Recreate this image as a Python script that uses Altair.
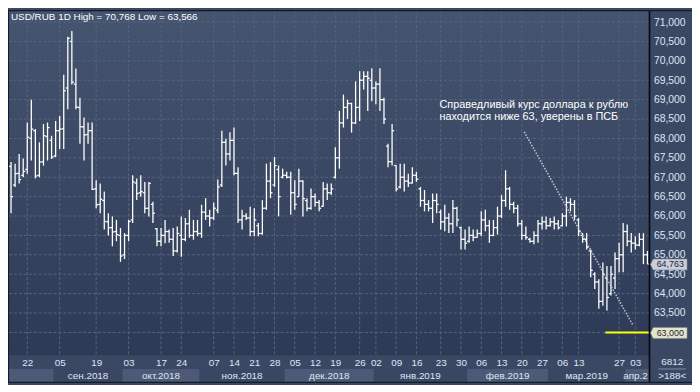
import altair as alt
import pandas as pd

# ---------------- data ----------------
high = [
    67.39, 67.35, 67.60, 67.48, 68.41, 69.00, 68.24, 67.90, 68.37, 68.41,
    68.07, 68.45, 68.58, 69.64, 70.62, 70.768, 69.80, 69.05, 68.54, 68.41,
    68.41, 66.92, 66.84, 66.63, 66.07, 65.99, 65.90, 65.69, 65.56, 65.90,
    67.05, 66.97, 67.05, 66.88, 66.88, 66.37, 65.69, 65.69, 65.90, 65.65,
    65.69, 65.73, 65.99, 65.95, 66.16, 65.90, 65.90, 66.29, 66.46, 66.16,
    66.35, 66.94, 68.20, 67.99, 68.16, 68.28, 67.26, 66.16, 66.07, 66.24,
    66.20, 65.82, 66.41, 67.35, 67.39, 67.52, 67.30, 67.22, 67.14, 67.14,
    66.92, 67.22, 66.92, 66.46, 66.71, 66.58, 66.41, 66.88, 66.84, 66.84,
    67.77, 68.71, 69.13, 69.00, 68.92, 69.47, 69.73, 69.73, 69.73, 69.81,
    69.47, 69.81, 69.05, 67.86, 68.37, 67.30, 67.35, 67.35, 67.09, 67.26,
    67.14, 66.75, 66.67, 66.41, 66.58, 66.58, 66.16, 66.29, 66.07, 66.41,
    66.24, 65.73, 65.65, 65.73, 65.65, 65.65, 66.12, 66.16, 65.90, 65.90,
    66.24, 66.54, 67.18, 66.75, 66.37, 66.29, 65.90, 65.73, 65.44, 65.61,
    65.90, 65.99, 65.99, 65.95, 65.99, 65.90, 66.07, 66.50, 66.46, 66.41,
    65.95, 65.56, 65.56, 65.14, 64.55, 64.37, 64.80, 64.71, 64.71, 65.06,
    65.31, 65.82, 65.78, 65.56, 65.48, 65.56, 65.56, 65.10]
low = [
    66.07, 66.75, 66.84, 67.00, 67.09, 67.43, 66.97, 67.00, 67.30, 67.43,
    67.47, 67.52, 67.73, 67.73, 68.75, 69.39, 68.75, 67.86, 67.43, 67.86,
    66.67, 66.20, 66.07, 65.65, 65.50, 65.22, 65.35, 64.82, 64.89, 65.35,
    65.82, 66.41, 66.50, 66.07, 65.99, 65.82, 65.22, 65.22, 65.30, 65.31,
    64.97, 65.06, 64.95, 65.35, 65.44, 65.39, 65.48, 65.44, 65.90, 65.73,
    65.90, 66.07, 66.75, 67.30, 67.43, 67.05, 65.82, 65.65, 65.90, 65.48,
    65.48, 65.48, 65.52, 66.16, 66.46, 66.75, 65.99, 66.97, 66.97, 66.03,
    66.16, 66.50, 65.99, 66.12, 66.16, 66.24, 66.12, 66.24, 66.41, 66.54,
    66.97, 67.22, 68.28, 68.50, 68.15, 68.37, 68.45, 69.26, 68.71, 68.96,
    68.88, 68.71, 68.37, 67.26, 67.30, 66.63, 66.71, 66.63, 66.75, 66.84,
    66.88, 66.24, 66.12, 66.12, 65.82, 66.07, 65.65, 65.61, 65.56, 65.56,
    65.73, 65.14, 65.14, 65.31, 65.35, 65.44, 65.48, 65.61, 65.31, 65.48,
    65.52, 65.95, 66.24, 66.16, 66.07, 65.73, 65.39, 65.39, 65.31, 65.27,
    65.31, 65.65, 65.65, 65.73, 65.65, 65.65, 65.73, 65.73, 66.12, 65.90,
    65.48, 65.31, 65.14, 64.42, 64.12, 63.61, 63.69, 63.566, 63.95, 64.12,
    64.55, 64.55, 65.22, 65.06, 65.14, 65.22, 64.76, 64.76]
opn = [
    67.28, 66.80, 67.10, 67.05, 67.20, 68.00, 68.20, 67.05, 67.40, 68.05,
    67.95, 67.55, 68.20, 68.25, 69.30, 70.50, 69.40, 68.80, 68.30, 68.10,
    68.20, 66.70, 66.30, 66.40, 65.85, 65.70, 65.60, 65.50, 65.00, 65.50,
    65.90, 66.85, 66.60, 66.60, 66.20, 66.30, 65.67, 65.35, 65.50, 65.60,
    65.40, 65.10, 65.50, 65.40, 65.80, 65.50, 65.60, 65.55, 66.10, 66.00,
    65.95, 66.15, 66.80, 67.90, 67.60, 67.95, 67.10, 65.90, 66.00, 65.95,
    65.60, 65.75, 65.55, 66.20, 66.90, 66.80, 67.20, 67.00, 67.05, 67.00,
    66.60, 66.50, 66.90, 66.40, 66.20, 66.50, 66.35, 66.25, 66.70, 66.60,
    67.00, 67.50, 68.40, 68.80, 68.90, 68.40, 68.80, 69.50, 69.60, 69.50,
    69.30, 69.40, 69.00, 67.80, 67.40, 67.30, 66.75, 67.00, 66.90, 66.85,
    67.05, 66.70, 66.40, 66.30, 66.20, 66.40, 66.10, 65.85, 65.95, 65.80,
    66.20, 65.70, 65.40, 65.35, 65.50, 65.45, 65.55, 65.90, 65.75, 65.50,
    65.70, 66.00, 66.40, 66.70, 66.30, 66.20, 65.80, 65.50, 65.40, 65.35,
    65.50, 65.80, 65.85, 65.75, 65.85, 65.80, 65.75, 66.00, 66.35, 66.30,
    65.90, 65.50, 65.40, 65.10, 64.50, 64.30, 63.80, 64.40, 64.00, 64.40,
    64.90, 65.00, 65.60, 65.35, 65.30, 65.25, 65.40, 65.00]
close = [
    66.50, 67.09, 66.94, 67.15, 68.03, 68.24, 67.03, 67.39, 68.07, 68.28,
    67.52, 68.20, 68.24, 69.23, 70.58, 69.45, 68.81, 68.30, 68.09, 68.20,
    66.69, 66.29, 66.43, 65.86, 65.70, 65.59, 65.52, 64.97, 65.50, 65.86,
    66.88, 66.58, 66.63, 66.20, 66.84, 66.07, 65.35, 65.50, 65.60, 65.40,
    65.10, 65.55, 65.40, 65.80, 65.50, 65.60, 65.55, 66.10, 66.00, 65.95,
    66.20, 66.75, 67.90, 67.60, 67.95, 67.10, 65.90, 66.00, 65.95, 65.60,
    65.90, 65.55, 66.20, 66.90, 66.60, 67.30, 66.50, 67.05, 67.00, 66.60,
    66.30, 66.90, 66.45, 66.20, 66.50, 66.35, 66.20, 66.70, 66.60, 66.70,
    67.50, 68.40, 68.80, 68.90, 68.40, 68.80, 69.50, 69.60, 69.55, 69.30,
    69.40, 69.00, 68.50, 67.40, 68.20, 66.70, 67.00, 66.90, 66.85, 67.05,
    66.95, 66.40, 66.30, 66.20, 66.40, 66.30, 65.85, 65.95, 65.80, 66.20,
    65.90, 65.40, 65.30, 65.50, 65.45, 65.55, 65.90, 65.75, 65.50, 65.70,
    66.00, 66.40, 66.70, 66.30, 66.20, 65.80, 65.50, 65.45, 65.35, 65.50,
    65.80, 65.85, 65.75, 65.85, 65.80, 65.70, 66.00, 66.35, 66.30, 66.00,
    65.60, 65.40, 65.20, 64.60, 64.30, 63.80, 64.50, 63.90, 64.50, 64.90,
    65.00, 65.60, 65.35, 65.30, 65.25, 65.40, 65.00, 64.763]

# x-axis: bar index of each labelled day, and its label
tick_idx = [4, 12, 21, 29, 37, 42, 50, 55, 60, 65, 70, 75, 80, 86, 90, 95,
            100, 106, 111, 116, 121, 126, 131, 136, 140, 150, 154]
tick_lab = ["22", "05", "19", "03", "17", "24", "07", "14", "21", "28", "05",
            "12", "19", "26", "02", "09", "16", "23", "30", "06", "13", "20",
            "27", "06", "13", "27", "03"]
# month bands: first bar index of each month, and labels
month_start = [0, 11, 28, 47, 68, 90, 113, 133, 152]
month_lab = ["", "сен.2018", "окт.2018", "ноя.2018", "дек.2018",
             "янв.2019", "фев.2019", "мар.2019", "апр.2019"]
# y-axis tick values
y_ticks = [63.0, 63.5, 64.0, 64.5, 65.0, 65.5, 66.0, 66.5, 67.0, 67.5,
           68.0, 68.5, 69.0, 69.5, 70.0, 70.5, 71.0]
# level line and trend line (drawn annotations)
level_val = [63.0]
level_from = [146.6]
trend_x = [126.6, 153.4]
trend_y = [68.17, 63.19]
note_lines = ["Справедливый курс доллара к рублю",
              "находится ниже 63, уверены в ПСБ"]
corner_lines = ["6812", ">188<"]

# ---------------- layout / style ----------------
W, H = 649, 349
RP, BP = 43, 28
X0, X1 = -0.75, 157.5
Y0, Y1 = 62.414, 71.306
BG = "#3b4864"
TXT = "#dce6f4"
GRID = "#56647f"
FONT = "Liberation Sans"


def fmt(v):
    return f"{v:.3f}".replace(".", ",")


n = len(high)
bars = pd.DataFrame({"i": list(range(n)), "O": opn, "H": high, "L": low, "C": close})
bars["oL"] = bars["i"] - 0.5
bars["cR"] = bars["i"] + 0.5

xs = alt.Scale(domain=[X0, X1], nice=False, zero=False)
ys = alt.Scale(domain=[Y0, Y1], nice=False, zero=False)
one = pd.DataFrame({"a": [0]})

lab_arr = "[" + ",".join(f"'{t}'" for t in tick_lab) + "]"
idx_arr = "[" + ",".join(str(t) for t in tick_idx) + "]"

x_axis = alt.Axis(values=tick_idx, labelExpr=f"{lab_arr}[indexof({idx_arr}, datum.value)]",
                  grid=False, ticks=False, domain=False, labelColor=TXT,
                  labelFontSize=10, labelFont=FONT, labelPadding=2,
                  labelOverlap=False, labelFlush=False, title=None)
# the 63,000 level carries its own price tag, which hides the axis label there
y_axis = alt.Axis(orient="right", values=y_ticks,
                  labelExpr=f"datum.value == {level_val[0]} ? '' : "
                            "replace(format(datum.value, '.3f'), '.', ',')",
                  grid=False, ticks=False, domain=False, labelColor=TXT,
                  labelFontSize=10.5, labelFont=FONT, labelPadding=4,
                  labelOverlap=False, labelFlush=False, title=None)


def X(f):
    return alt.X(f, scale=xs, axis=x_axis)


def Y(f):
    return alt.Y(f, scale=ys, axis=y_axis)


bg = alt.Chart(one).mark_rect(
    color=alt.Gradient(
        gradient="linear",
        stops=[alt.GradientStop(color="#45546f", offset=0),
               alt.GradientStop(color="#2d3a55", offset=1)],
        x1=0, x2=0, y1=0, y2=1)
).encode(x=alt.value(0), x2=alt.value(W), y=alt.value(0), y2=alt.value(H))

ygrid = alt.Chart(pd.DataFrame({"v": y_ticks})).mark_rule(
    color=GRID, strokeDash=[3, 2], strokeWidth=1
).encode(y=Y("v:Q"))

xgrid = alt.Chart(pd.DataFrame({"t": tick_idx})).mark_rule(
    color=GRID, strokeDash=[3, 2], strokeWidth=1
).encode(x=X("t:Q"))

# month bands
ms = []
for k, s in enumerate(month_start):
    s0 = X0 if k == 0 else s - 0.5
    e0 = X1 if k == len(month_start) - 1 else month_start[k + 1] - 0.5
    ms.append({"s": s0, "e": e0, "mid": (s0 + e0) / 2, "lab": month_lab[k],
               "fill": "#4c5a77" if k % 2 == 0 else "#3a4763",
               "last": k == len(month_start) - 1})
mdf = pd.DataFrame(ms)

bands = alt.Chart(mdf).mark_rect().encode(
    x=X("s:Q"), x2="e:Q",
    y=alt.value(H + 14), y2=alt.value(H + 28),
    color=alt.Color("fill:N", scale=None))

mlabels = alt.Chart(mdf[~mdf["last"]]).mark_text(
    fontSize=10, font=FONT, color=TXT, baseline="middle", align="center"
).encode(x=X("mid:Q"), y=alt.value(H + 21), text="lab:N")

mlabel_last = alt.Chart(mdf[mdf["last"]]).mark_text(
    fontSize=10, font=FONT, color=TXT, baseline="middle", align="left", dx=-2,
    limit=27, ellipsis="\u200b"
).encode(x=X("s:Q"), y=alt.value(H + 21), text="lab:N")

hl = alt.Chart(bars).mark_rule(color="white", strokeWidth=1.3).encode(
    x=X("i:Q"), y=Y("L:Q"), y2="H:Q")
otick = alt.Chart(bars).mark_rule(color="white", strokeWidth=1.3).encode(
    x=X("oL:Q"), x2="i:Q", y=Y("O:Q"))
ctick = alt.Chart(bars).mark_rule(color="white", strokeWidth=1.3).encode(
    x=X("i:Q"), x2="cR:Q", y=Y("C:Q"))

level = alt.Chart(pd.DataFrame({"x": level_from, "x2": [X1], "y": level_val})).mark_rule(
    color="#ffff00", strokeWidth=2
).encode(x=X("x:Q"), x2="x2:Q", y=Y("y:Q"))

trend = alt.Chart(pd.DataFrame({"x": [trend_x[0]], "x2": [trend_x[1]],
                                "y": [trend_y[0]], "y2": [trend_y[1]]})).mark_rule(
    color="#c3cad5", strokeWidth=1.5, strokeDash=[1.5, 1.5]
).encode(x=X("x:Q"), x2="x2:Q", y=Y("y:Q"), y2="y2:Q")

note = alt.Chart(one).mark_text(
    text=note_lines, align="left", baseline="alphabetic", fontSize=11, font=FONT,
    color="white", lineHeight=13
).encode(x=alt.value(436.5), y=alt.value(98.5))

title_txt = f"USD/RUB 1D High = {fmt(max(high))} Low = {fmt(min(low))}"
title = alt.Chart(one).mark_text(
    text=title_txt, align="left", baseline="middle", fontSize=10, font=FONT, color="white"
).encode(x=alt.value(3), y=alt.value(7))

corner = alt.Chart(one).mark_rect(color=BG).encode(
    x=alt.value(W), x2=alt.value(W + RP), y=alt.value(H), y2=alt.value(H + BP))
corner_t1 = alt.Chart(one).mark_text(
    text=corner_lines[0], fontSize=10, font=FONT, color=TXT, align="center", baseline="middle"
).encode(x=alt.value(W + 23), y=alt.value(H + 7))
corner_t2 = alt.Chart(one).mark_text(
    text=corner_lines[1], fontSize=10, font=FONT, color=TXT, align="center", baseline="middle"
).encode(x=alt.value(W + 23), y=alt.value(H + 21))
corner_sep = alt.Chart(one).mark_rule(color="#7f8ca4", strokeWidth=1).encode(
    x=alt.value(W + 9), x2=alt.value(W + 37), y=alt.value(H + 14))

vline = alt.Chart(one).mark_rule(color="#06080d", strokeWidth=1.6).encode(
    x=alt.value(W), y=alt.value(0), y2=alt.value(H + BP))
topline = alt.Chart(one).mark_rule(color="#151b28", strokeWidth=1.2).encode(
    x=alt.value(0), x2=alt.value(W + RP), y=alt.value(0.5))
leftline = alt.Chart(one).mark_rule(color="#151b28", strokeWidth=1.2).encode(
    x=alt.value(0.5), y=alt.value(0), y2=alt.value(H + BP))
botline = alt.Chart(one).mark_rule(color="#151b28", strokeWidth=1.2).encode(
    x=alt.value(0), x2=alt.value(W + RP), y=alt.value(H + BP - 0.5))

tags = pd.DataFrame({"v": [close[-1], level_val[0]],
                     "lab": [fmt(close[-1]), fmt(level_val[0])],
                     "fill": ["#c9ced8", "#e5e4c9"]})
tag_shape = "M -1 0 L -0.85 -0.3 L 1 -0.3 L 1 0.3 L -0.85 0.3 Z"
tag_box = alt.Chart(tags).mark_point(
    shape=tag_shape, size=1369, filled=True, opacity=1, stroke="#7d8697", strokeWidth=0.6,
    yOffset=0.5
).encode(x=alt.value(W + 19.5), y=Y("v:Q"),
         fill=alt.Color("fill:N", scale=None))
tag_txt = alt.Chart(tags).mark_text(
    fontSize=9, font=FONT, color="#1c2438", align="center", baseline="middle", dy=0.5
).encode(x=alt.value(W + 21), y=Y("v:Q"), text="lab:N")

chart = alt.layer(
    bg, ygrid, xgrid, bands, mlabels, mlabel_last, hl, otick, ctick, level, trend,
    note, title, corner, corner_sep, corner_t1, corner_t2, vline, topline, leftline,
    botline, tag_box, tag_txt
).properties(
    width=W, height=H,
    autosize=alt.AutoSizeParams(type="none"),
    padding={"left": 0, "top": 0, "right": RP, "bottom": BP},
    background=BG
).configure_view(stroke=None)

chart.save("out.html", embed_options={"renderer": "svg", "actions": False})
